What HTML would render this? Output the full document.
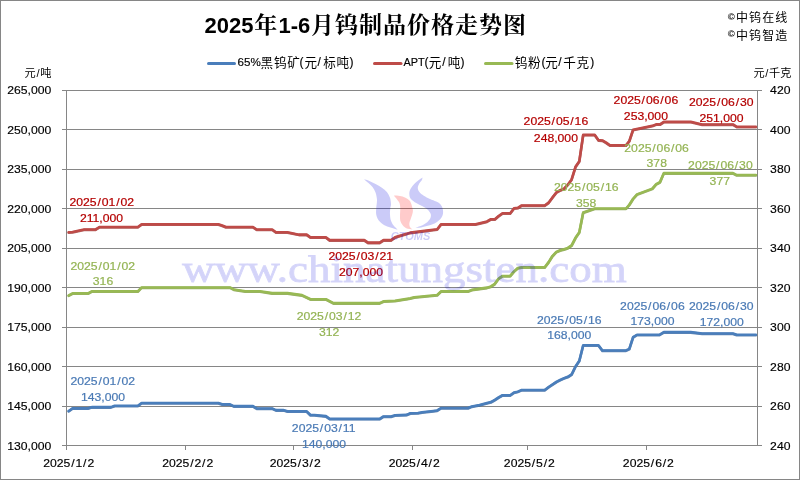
<!DOCTYPE html>
<html><head><meta charset="utf-8"><title>2025年1-6月钨制品价格走势图</title>
<style>
html,body{margin:0;padding:0;background:#fff;}
body{width:800px;height:480px;overflow:hidden;}
svg{display:block;}
.ax{font-family:"Liberation Sans",sans-serif;font-size:11.2px;fill:#000;stroke:#000;stroke-width:0.15px;}
.dl{font-family:"Liberation Sans",sans-serif;font-size:11.2px;stroke-width:0.2px;}
.cj{font-family:"Liberation Sans","Noto Sans CJK SC",sans-serif;}
</style></head><body>
<svg width="800" height="480" viewBox="0 0 800 480">
<rect x="0" y="0" width="800" height="480" fill="#fff"/>
<rect x="0.5" y="0.5" width="799" height="479" fill="none" stroke="#868686" stroke-width="1"/>

<g stroke="#868686" stroke-width="1" fill="none" shape-rendering="auto">
<line x1="62" y1="445.50" x2="762" y2="445.50"/>
<line x1="62" y1="406.50" x2="762" y2="406.50"/>
<line x1="62" y1="366.50" x2="762" y2="366.50"/>
<line x1="62" y1="327.50" x2="762" y2="327.50"/>
<line x1="62" y1="287.50" x2="762" y2="287.50"/>
<line x1="62" y1="248.50" x2="762" y2="248.50"/>
<line x1="62" y1="208.50" x2="762" y2="208.50"/>
<line x1="62" y1="169.50" x2="762" y2="169.50"/>
<line x1="62" y1="129.50" x2="762" y2="129.50"/>
<line x1="62" y1="90.50" x2="762" y2="90.50"/>
<line x1="66.5" y1="90" x2="66.5" y2="446"/>
<line x1="757.5" y1="90" x2="757.5" y2="446"/>
<line x1="66.50" y1="445" x2="66.50" y2="450"/>
<line x1="185.50" y1="445" x2="185.50" y2="450"/>
<line x1="293.50" y1="445" x2="293.50" y2="450"/>
<line x1="412.50" y1="445" x2="412.50" y2="450"/>
<line x1="527.50" y1="445" x2="527.50" y2="450"/>
<line x1="646.50" y1="445" x2="646.50" y2="450"/>
</g>
<g class="ax" text-anchor="end">
<text transform="translate(51.30,450.00) scale(1.09,1)">130,000</text>
<text transform="translate(51.30,410.00) scale(1.09,1)">145,000</text>
<text transform="translate(51.30,371.00) scale(1.09,1)">160,000</text>
<text transform="translate(51.30,331.00) scale(1.09,1)">175,000</text>
<text transform="translate(51.30,292.00) scale(1.09,1)">190,000</text>
<text transform="translate(51.30,252.00) scale(1.09,1)">205,000</text>
<text transform="translate(51.30,213.00) scale(1.09,1)">220,000</text>
<text transform="translate(51.30,173.00) scale(1.09,1)">235,000</text>
<text transform="translate(51.30,134.00) scale(1.09,1)">250,000</text>
<text transform="translate(51.30,94.00) scale(1.09,1)">265,000</text>
</g>
<g class="ax" text-anchor="start">
<text transform="translate(770.10,450.00) scale(1.09,1)">240</text>
<text transform="translate(770.10,410.00) scale(1.09,1)">260</text>
<text transform="translate(770.10,371.00) scale(1.09,1)">280</text>
<text transform="translate(770.10,331.00) scale(1.09,1)">300</text>
<text transform="translate(770.10,292.00) scale(1.09,1)">320</text>
<text transform="translate(770.10,252.00) scale(1.09,1)">340</text>
<text transform="translate(770.10,213.00) scale(1.09,1)">360</text>
<text transform="translate(770.10,173.00) scale(1.09,1)">380</text>
<text transform="translate(770.10,134.00) scale(1.09,1)">400</text>
<text transform="translate(770.10,94.00) scale(1.09,1)">420</text>
</g>
<g class="ax" text-anchor="middle">
<text transform="translate(68.67,467.40) scale(1.09,1)">2025<tspan dx="0.8">/</tspan><tspan dx="0.8">1</tspan><tspan dx="0.8">/</tspan><tspan dx="0.8">2</tspan></text>
<text transform="translate(187.68,467.40) scale(1.09,1)">2025<tspan dx="0.8">/</tspan><tspan dx="0.8">2</tspan><tspan dx="0.8">/</tspan><tspan dx="0.8">2</tspan></text>
<text transform="translate(295.17,467.40) scale(1.09,1)">2025<tspan dx="0.8">/</tspan><tspan dx="0.8">3</tspan><tspan dx="0.8">/</tspan><tspan dx="0.8">2</tspan></text>
<text transform="translate(414.18,467.40) scale(1.09,1)">2025<tspan dx="0.8">/</tspan><tspan dx="0.8">4</tspan><tspan dx="0.8">/</tspan><tspan dx="0.8">2</tspan></text>
<text transform="translate(529.35,467.40) scale(1.09,1)">2025<tspan dx="0.8">/</tspan><tspan dx="0.8">5</tspan><tspan dx="0.8">/</tspan><tspan dx="0.8">2</tspan></text>
<text transform="translate(648.36,467.40) scale(1.09,1)">2025<tspan dx="0.8">/</tspan><tspan dx="0.8">6</tspan><tspan dx="0.8">/</tspan><tspan dx="0.8">2</tspan></text>
</g>
<text class="cj" x="24.6" y="76.9" font-size="11.2" fill="#000">元<tspan dx="0.7">/</tspan><tspan dx="0.7">吨</tspan></text>
<text class="cj" x="753.4" y="76.9" font-size="11.2" fill="#000">元<tspan dx="0.7">/</tspan><tspan dx="0.7">千克</tspan></text>
<text x="204.6" y="33.2" fill="#000" style="font-family:'Liberation Sans','Noto Serif CJK SC',serif;font-size:23px;font-weight:700;letter-spacing:1px"><tspan font-size="22" font-weight="bold" letter-spacing="0">2025</tspan><tspan dx="0.6">年</tspan><tspan font-size="22" font-weight="bold" letter-spacing="0" dx="0.4">1-6</tspan><tspan dx="0.6">月钨制品价格走势图</tspan></text>
<text class="cj" fill="#000"><tspan x="727.8" y="19.8" font-size="9.6" font-weight="bold">©</tspan><tspan x="735.9" y="21.9" font-size="12" letter-spacing="1.15">中钨在线</tspan></text>
<text class="cj" fill="#000"><tspan x="727.8" y="37.4" font-size="9.6" font-weight="bold">©</tspan><tspan x="735.9" y="39.5" font-size="12" letter-spacing="1.15">中钨智造</tspan></text>
<g stroke-width="3" stroke-linecap="round" fill="none">
<line x1="208.5" y1="63.4" x2="234.5" y2="63.4" stroke="#4A7EBB"/>
<line x1="374.5" y1="63.4" x2="401" y2="63.4" stroke="#BE4B48"/>
<line x1="485.5" y1="63.4" x2="512" y2="63.4" stroke="#98B954"/>
</g>
<text class="cj" fill="#000"><tspan x="237.5" y="66.3" font-size="11.6" letter-spacing="0" stroke="#000" stroke-width="0.15">65%</tspan><tspan x="260.6" y="66.7" font-size="12.6" letter-spacing="0.7">黑钨矿</tspan><tspan x="299.6" y="66.3" font-size="12.0" letter-spacing="0" stroke="#000" stroke-width="0.15">(</tspan><tspan x="304.4" y="66.7" font-size="12.6" letter-spacing="0.7">元</tspan><tspan x="317.6" y="66.3" font-size="12.0" letter-spacing="0" stroke="#000" stroke-width="0.15">/</tspan><tspan x="323.2" y="66.7" font-size="12.6" letter-spacing="0.7">标吨</tspan><tspan x="349.4" y="66.3" font-size="12.0" letter-spacing="0" stroke="#000" stroke-width="0.15">)</tspan></text>
<text class="cj" fill="#000"><tspan x="403.4" y="66.3" font-size="10.9" letter-spacing="0" stroke="#000" stroke-width="0.15">APT</tspan><tspan x="424.6" y="66.3" font-size="12.0" letter-spacing="0" stroke="#000" stroke-width="0.15">(</tspan><tspan x="428.8" y="66.7" font-size="12.6" letter-spacing="0.7">元</tspan><tspan x="442.2" y="66.3" font-size="12.0" letter-spacing="0" stroke="#000" stroke-width="0.15">/</tspan><tspan x="447.8" y="66.7" font-size="12.6" letter-spacing="0.7">吨</tspan><tspan x="460.6" y="66.3" font-size="12.0" letter-spacing="0" stroke="#000" stroke-width="0.15">)</tspan></text>
<text class="cj" fill="#000"><tspan x="514.8" y="66.7" font-size="12.6" letter-spacing="0.7">钨粉</tspan><tspan x="541.6" y="66.3" font-size="12.0" letter-spacing="0" stroke="#000" stroke-width="0.15">(</tspan><tspan x="545.3" y="66.7" font-size="12.6" letter-spacing="0.7">元</tspan><tspan x="558.3" y="66.3" font-size="12.0" letter-spacing="0" stroke="#000" stroke-width="0.15">/</tspan><tspan x="563.2" y="66.7" font-size="12.6" letter-spacing="0.7">千克</tspan><tspan x="590.2" y="66.3" font-size="12.0" letter-spacing="0" stroke="#000" stroke-width="0.15">)</tspan></text>
<g fill="none" stroke-width="2.6" stroke-linejoin="round" stroke-linecap="round" transform="translate(0,0.3)" opacity="0.8">
<polyline stroke="#3F6A9E" points="68.7,411.1 72.5,408.5 88.0,408.5 91.7,407.3 110.9,407.3 114.7,405.9 137.8,405.9 141.6,403.2 218.4,403.2 222.2,404.5 230.0,404.5 233.8,406.3 253.0,406.3 256.8,408.6 272.2,408.6 276.0,410.3 283.7,410.3 287.5,411.5 306.7,411.5 310.5,415.2 314.4,415.2 325.9,416.3 329.7,419.0 379.6,419.0 383.5,416.6 391.0,416.6 395.0,415.4 406.5,415.0 410.3,413.4 418.0,413.2 422.0,412.4 433.4,411.1 437.2,410.6 441.0,408.2 468.0,408.2 471.8,406.6 479.5,405.2 487.0,403.2 490.9,402.2 494.8,400.0 498.6,397.6 502.5,395.4 510.2,395.4 514.0,392.6 517.8,391.8 521.7,390.1 544.7,390.1 548.6,387.2 552.4,384.6 556.3,382.0 560.1,380.1 564.0,378.3 567.8,377.0 571.6,374.6 575.5,366.6 579.3,360.9 583.2,345.4 598.5,345.4 602.4,350.6 626.0,350.6 629.3,349.0 633.1,337.3 637.0,334.9 659.5,334.9 663.8,332.3 690.7,332.3 702.2,333.6 733.0,333.6 736.8,334.9 755.9,334.9"/>
<polyline stroke="#9E403E" points="68.7,232.4 72.5,232.1 84.0,229.6 95.6,229.6 99.4,227.2 137.8,227.2 141.6,224.5 218.4,224.5 222.2,225.7 226.0,227.2 253.0,227.2 256.8,229.7 272.2,229.7 276.0,232.4 287.5,232.4 299.0,234.8 306.7,234.8 310.5,237.5 325.9,237.5 329.7,240.3 364.3,240.3 368.1,242.8 379.6,242.8 383.5,240.3 391.0,240.3 395.0,237.5 399.0,236.2 410.3,232.8 437.2,229.4 441.0,224.5 475.6,224.5 487.0,221.6 490.9,219.4 494.8,219.4 498.6,216.2 502.5,213.4 510.2,213.4 514.0,208.4 517.8,208.0 521.7,205.6 544.7,205.6 548.6,202.8 552.4,197.6 556.3,192.6 560.1,190.4 564.0,188.8 567.8,184.8 571.6,179.6 575.5,167.0 579.3,161.4 583.2,135.0 594.7,135.0 598.5,140.3 602.4,140.6 606.2,142.8 610.0,145.5 626.0,145.5 629.3,141.2 633.1,129.9 652.3,126.0 656.2,124.5 660.0,124.5 663.8,122.0 690.7,122.0 702.2,124.6 733.0,124.6 736.8,126.9 755.9,126.9"/>
<polyline stroke="#7F9B47" points="68.7,295.5 72.5,293.5 88.0,293.5 91.7,291.5 137.8,291.5 141.6,287.6 230.0,287.6 233.8,289.6 245.3,291.4 260.0,291.4 272.2,293.3 287.5,293.3 302.0,295.3 310.5,299.4 325.9,299.4 333.5,303.3 379.6,303.3 383.5,301.5 395.0,300.9 410.3,298.5 414.2,297.4 437.2,295.2 441.0,291.5 468.0,291.5 471.8,290.0 487.0,287.8 490.9,286.6 494.8,284.0 498.6,278.7 502.5,276.1 510.2,276.1 514.0,271.6 517.8,268.2 521.7,267.4 544.7,267.4 548.6,262.3 552.4,256.2 556.3,252.1 560.1,250.4 564.0,249.4 567.8,248.1 571.6,245.6 575.5,238.0 579.3,232.4 583.2,212.6 594.7,208.7 626.0,208.7 629.3,204.9 633.1,198.9 637.0,194.5 652.3,188.8 656.2,184.3 660.0,182.2 663.8,173.3 733.0,173.3 736.8,175.2 755.9,175.2"/>
</g>
<g fill="none" stroke-width="2.6" stroke-linejoin="round" stroke-linecap="round" transform="translate(0,-0.15)">
<polyline stroke="#4A7EBB" points="68.7,411.1 72.5,408.5 88.0,408.5 91.7,407.3 110.9,407.3 114.7,405.9 137.8,405.9 141.6,403.2 218.4,403.2 222.2,404.5 230.0,404.5 233.8,406.3 253.0,406.3 256.8,408.6 272.2,408.6 276.0,410.3 283.7,410.3 287.5,411.5 306.7,411.5 310.5,415.2 314.4,415.2 325.9,416.3 329.7,419.0 379.6,419.0 383.5,416.6 391.0,416.6 395.0,415.4 406.5,415.0 410.3,413.4 418.0,413.2 422.0,412.4 433.4,411.1 437.2,410.6 441.0,408.2 468.0,408.2 471.8,406.6 479.5,405.2 487.0,403.2 490.9,402.2 494.8,400.0 498.6,397.6 502.5,395.4 510.2,395.4 514.0,392.6 517.8,391.8 521.7,390.1 544.7,390.1 548.6,387.2 552.4,384.6 556.3,382.0 560.1,380.1 564.0,378.3 567.8,377.0 571.6,374.6 575.5,366.6 579.3,360.9 583.2,345.4 598.5,345.4 602.4,350.6 626.0,350.6 629.3,349.0 633.1,337.3 637.0,334.9 659.5,334.9 663.8,332.3 690.7,332.3 702.2,333.6 733.0,333.6 736.8,334.9 755.9,334.9"/>
<polyline stroke="#BE4B48" points="68.7,232.4 72.5,232.1 84.0,229.6 95.6,229.6 99.4,227.2 137.8,227.2 141.6,224.5 218.4,224.5 222.2,225.7 226.0,227.2 253.0,227.2 256.8,229.7 272.2,229.7 276.0,232.4 287.5,232.4 299.0,234.8 306.7,234.8 310.5,237.5 325.9,237.5 329.7,240.3 364.3,240.3 368.1,242.8 379.6,242.8 383.5,240.3 391.0,240.3 395.0,237.5 399.0,236.2 410.3,232.8 437.2,229.4 441.0,224.5 475.6,224.5 487.0,221.6 490.9,219.4 494.8,219.4 498.6,216.2 502.5,213.4 510.2,213.4 514.0,208.4 517.8,208.0 521.7,205.6 544.7,205.6 548.6,202.8 552.4,197.6 556.3,192.6 560.1,190.4 564.0,188.8 567.8,184.8 571.6,179.6 575.5,167.0 579.3,161.4 583.2,135.0 594.7,135.0 598.5,140.3 602.4,140.6 606.2,142.8 610.0,145.5 626.0,145.5 629.3,141.2 633.1,129.9 652.3,126.0 656.2,124.5 660.0,124.5 663.8,122.0 690.7,122.0 702.2,124.6 733.0,124.6 736.8,126.9 755.9,126.9"/>
<polyline stroke="#98B954" points="68.7,295.5 72.5,293.5 88.0,293.5 91.7,291.5 137.8,291.5 141.6,287.6 230.0,287.6 233.8,289.6 245.3,291.4 260.0,291.4 272.2,293.3 287.5,293.3 302.0,295.3 310.5,299.4 325.9,299.4 333.5,303.3 379.6,303.3 383.5,301.5 395.0,300.9 410.3,298.5 414.2,297.4 437.2,295.2 441.0,291.5 468.0,291.5 471.8,290.0 487.0,287.8 490.9,286.6 494.8,284.0 498.6,278.7 502.5,276.1 510.2,276.1 514.0,271.6 517.8,268.2 521.7,267.4 544.7,267.4 548.6,262.3 552.4,256.2 556.3,252.1 560.1,250.4 564.0,249.4 567.8,248.1 571.6,245.6 575.5,238.0 579.3,232.4 583.2,212.6 594.7,208.7 626.0,208.7 629.3,204.9 633.1,198.9 637.0,194.5 652.3,188.8 656.2,184.3 660.0,182.2 663.8,173.3 733.0,173.3 736.8,175.2 755.9,175.2"/>
</g>
<g class="dl" text-anchor="middle">
<text transform="translate(101.70,205.70) scale(1.09,1)" fill="#B40000" stroke="#B40000">2025<tspan dx="0.8">/</tspan><tspan dx="0.8">01</tspan><tspan dx="0.8">/</tspan><tspan dx="0.8">02</tspan></text>
<text transform="translate(101.50,221.70) scale(1.09,1)" fill="#B40000" stroke="#B40000">211,000</text>
<text transform="translate(360.70,259.90) scale(1.09,1)" fill="#B40000" stroke="#B40000">2025<tspan dx="0.8">/</tspan><tspan dx="0.8">03</tspan><tspan dx="0.8">/</tspan><tspan dx="0.8">21</tspan></text>
<text transform="translate(361.00,275.50) scale(1.09,1)" fill="#B40000" stroke="#B40000">207,000</text>
<text transform="translate(555.90,125.45) scale(1.09,1)" fill="#B40000" stroke="#B40000">2025<tspan dx="0.8">/</tspan><tspan dx="0.8">05</tspan><tspan dx="0.8">/</tspan><tspan dx="0.8">16</tspan></text>
<text transform="translate(555.90,141.70) scale(1.09,1)" fill="#B40000" stroke="#B40000">248,000</text>
<text transform="translate(645.90,103.95) scale(1.09,1)" fill="#B40000" stroke="#B40000">2025<tspan dx="0.8">/</tspan><tspan dx="0.8">06</tspan><tspan dx="0.8">/</tspan><tspan dx="0.8">06</tspan></text>
<text transform="translate(645.90,119.70) scale(1.09,1)" fill="#B40000" stroke="#B40000">253,000</text>
<text transform="translate(721.20,105.95) scale(1.09,1)" fill="#B40000" stroke="#B40000">2025<tspan dx="0.8">/</tspan><tspan dx="0.8">06</tspan><tspan dx="0.8">/</tspan><tspan dx="0.8">30</tspan></text>
<text transform="translate(721.50,121.70) scale(1.09,1)" fill="#B40000" stroke="#B40000">251,000</text>
<text transform="translate(102.80,269.70) scale(1.09,1)" fill="#94B454" stroke="#94B454">2025<tspan dx="0.8">/</tspan><tspan dx="0.8">01</tspan><tspan dx="0.8">/</tspan><tspan dx="0.8">02</tspan></text>
<text transform="translate(103.00,285.30) scale(1.09,1)" fill="#94B454" stroke="#94B454">316</text>
<text transform="translate(329.00,319.90) scale(1.09,1)" fill="#94B454" stroke="#94B454">2025<tspan dx="0.8">/</tspan><tspan dx="0.8">03</tspan><tspan dx="0.8">/</tspan><tspan dx="0.8">12</tspan></text>
<text transform="translate(329.20,335.50) scale(1.09,1)" fill="#94B454" stroke="#94B454">312</text>
<text transform="translate(586.20,191.10) scale(1.09,1)" fill="#94B454" stroke="#94B454">2025<tspan dx="0.8">/</tspan><tspan dx="0.8">05</tspan><tspan dx="0.8">/</tspan><tspan dx="0.8">16</tspan></text>
<text transform="translate(586.20,206.70) scale(1.09,1)" fill="#94B454" stroke="#94B454">358</text>
<text transform="translate(656.60,152.00) scale(1.09,1)" fill="#94B454" stroke="#94B454">2025<tspan dx="0.8">/</tspan><tspan dx="0.8">06</tspan><tspan dx="0.8">/</tspan><tspan dx="0.8">06</tspan></text>
<text transform="translate(656.75,167.40) scale(1.09,1)" fill="#94B454" stroke="#94B454">378</text>
<text transform="translate(720.40,169.00) scale(1.09,1)" fill="#94B454" stroke="#94B454">2025<tspan dx="0.8">/</tspan><tspan dx="0.8">06</tspan><tspan dx="0.8">/</tspan><tspan dx="0.8">30</tspan></text>
<text transform="translate(719.80,184.70) scale(1.09,1)" fill="#94B454" stroke="#94B454">377</text>
<text transform="translate(102.80,385.10) scale(1.09,1)" fill="#4A7AB5" stroke="#4A7AB5">2025<tspan dx="0.8">/</tspan><tspan dx="0.8">01</tspan><tspan dx="0.8">/</tspan><tspan dx="0.8">02</tspan></text>
<text transform="translate(103.00,400.70) scale(1.09,1)" fill="#4A7AB5" stroke="#4A7AB5">143,000</text>
<text transform="translate(323.70,431.70) scale(1.09,1)" fill="#4A7AB5" stroke="#4A7AB5">2025<tspan dx="0.8">/</tspan><tspan dx="0.8">03</tspan><tspan dx="0.8">/</tspan><tspan dx="0.8">11</tspan></text>
<text transform="translate(324.00,447.70) scale(1.09,1)" fill="#4A7AB5" stroke="#4A7AB5">140,000</text>
<text transform="translate(569.20,323.70) scale(1.09,1)" fill="#4A7AB5" stroke="#4A7AB5">2025<tspan dx="0.8">/</tspan><tspan dx="0.8">05</tspan><tspan dx="0.8">/</tspan><tspan dx="0.8">16</tspan></text>
<text transform="translate(569.30,339.30) scale(1.09,1)" fill="#4A7AB5" stroke="#4A7AB5">168,000</text>
<text transform="translate(652.40,309.80) scale(1.09,1)" fill="#4A7AB5" stroke="#4A7AB5">2025<tspan dx="0.8">/</tspan><tspan dx="0.8">06</tspan><tspan dx="0.8">/</tspan><tspan dx="0.8">06</tspan></text>
<text transform="translate(652.50,324.70) scale(1.09,1)" fill="#4A7AB5" stroke="#4A7AB5">173,000</text>
<text transform="translate(721.20,310.20) scale(1.09,1)" fill="#4A7AB5" stroke="#4A7AB5">2025<tspan dx="0.8">/</tspan><tspan dx="0.8">06</tspan><tspan dx="0.8">/</tspan><tspan dx="0.8">30</tspan></text>
<text transform="translate(721.70,325.70) scale(1.09,1)" fill="#4A7AB5" stroke="#4A7AB5">172,000</text>
</g>
<g opacity="0.2">
<path fill="#0000E0" d="M363.8,179.3 C364.7,179.6 367.4,180.1 369.4,180.9 C371.4,181.7 373.5,182.9 375.6,184.0 C377.7,185.1 380.0,186.4 381.9,187.8 C383.8,189.1 385.5,190.4 386.9,192.1 C388.2,193.8 389.3,195.8 390.0,197.8 C390.7,199.7 390.9,202.2 391.0,204.0 C391.1,205.8 390.5,206.5 390.3,208.2 C390.1,210.0 389.9,212.6 390.0,214.5 C390.1,216.4 390.2,217.9 390.6,219.5 C391.0,221.1 391.7,222.6 392.5,223.9 C393.3,225.2 394.8,226.7 395.6,227.6 C396.4,228.5 397.2,229.2 397.5,229.5 C397.1,229.4 396.5,229.3 395.0,228.9 C393.5,228.5 390.8,227.8 388.8,227.0 C386.7,226.2 384.3,225.2 382.5,223.9 C380.7,222.7 379.1,221.1 378.1,219.5 C377.1,217.9 376.6,216.4 376.2,214.5 C375.9,212.6 376.1,210.3 376.2,208.2 C376.4,206.2 376.8,203.5 376.9,202.0 C377.0,200.5 377.1,200.5 376.9,199.0 C376.7,197.5 376.3,194.7 375.6,192.8 C374.9,190.8 373.8,188.8 372.5,187.1 C371.2,185.4 369.6,184.1 368.1,182.8 C366.6,181.4 364.5,179.9 363.8,179.3 Z"/>
<path fill="#0000E0" d="M422.5,177.6 C421.9,178.0 420.2,178.9 418.8,180.1 C417.3,181.2 415.2,182.8 413.8,184.5 C412.3,186.2 410.7,188.3 410.0,190.1 C409.3,191.9 409.2,193.6 409.4,195.1 C409.5,196.6 409.8,197.7 410.9,199.0 C412.0,200.3 414.3,201.9 416.2,203.1 C418.2,204.3 420.6,205.2 422.5,206.2 C424.4,207.3 426.1,208.2 427.5,209.4 C428.9,210.7 430.1,212.4 430.6,213.8 C431.1,215.1 431.0,216.2 430.6,217.5 C430.2,218.8 429.2,220.1 428.1,221.2 C427.0,222.4 425.3,223.5 423.8,224.4 C422.2,225.3 420.1,226.0 418.8,226.6 C417.4,227.2 416.1,227.6 415.6,227.8 C416.5,227.8 419.1,227.9 421.2,227.5 C423.4,227.1 426.2,226.4 428.8,225.6 C431.2,224.8 434.2,223.8 436.2,222.5 C438.3,221.2 440.1,219.7 441.2,218.1 C442.4,216.5 442.9,214.8 443.1,213.1 C443.3,211.4 443.0,209.7 442.5,208.1 C442.0,206.5 441.0,204.9 440.0,203.8 C439.0,202.6 437.9,202.2 436.2,201.4 C434.6,200.6 432.1,199.8 430.0,198.9 C427.9,198.0 425.5,196.9 423.8,195.8 C422.0,194.6 420.4,193.2 419.4,192.0 C418.4,190.8 417.9,189.5 417.8,188.2 C417.7,187.0 418.1,185.9 418.8,184.5 C419.4,183.1 421.3,181.2 421.9,180.1 C422.5,178.9 422.4,178.0 422.5,177.6 Z"/>
<path fill="#FF0000" d="M394.0,195.6 C395.0,195.7 398.2,195.6 400.0,195.9 C401.8,196.2 403.3,196.6 405.0,197.4 C406.7,198.2 408.8,199.2 410.0,201.0 C411.2,202.8 412.0,206.4 412.5,208.2 C413.0,210.1 413.0,210.4 412.8,212.0 C412.6,213.6 411.8,215.7 411.2,217.6 C410.7,219.5 409.6,221.7 409.4,223.2 C409.2,224.8 409.5,226.0 410.0,227.0 C410.5,228.0 412.1,229.1 412.5,229.5 C411.5,229.3 407.9,229.0 406.2,228.2 C404.6,227.5 403.5,226.3 402.5,225.1 C401.5,223.8 400.7,222.5 400.3,220.8 C399.9,219.0 400.0,216.6 400.0,214.5 C400.0,212.4 400.4,210.2 400.3,208.2 C400.2,206.3 399.9,204.2 399.5,203.0 C399.1,201.8 398.9,201.9 398.1,200.9 C397.4,199.9 395.7,198.0 395.0,197.1 C394.3,196.2 394.2,195.8 394.0,195.6 Z"/>
<text x="410.5" y="240" text-anchor="middle" font-family="Liberation Sans, sans-serif" font-weight="bold" font-style="italic" font-size="11" fill="#0000E0">CTOMS</text>
</g><g opacity="0.165">
<text x="182.2" y="282.2" font-family="Liberation Serif, serif" font-size="37.8" fill="#0000E0" stroke="#0000E0" stroke-width="0.8" textLength="444.5" lengthAdjust="spacingAndGlyphs">www.chinatungsten.com</text>
</g>
</svg></body></html>
